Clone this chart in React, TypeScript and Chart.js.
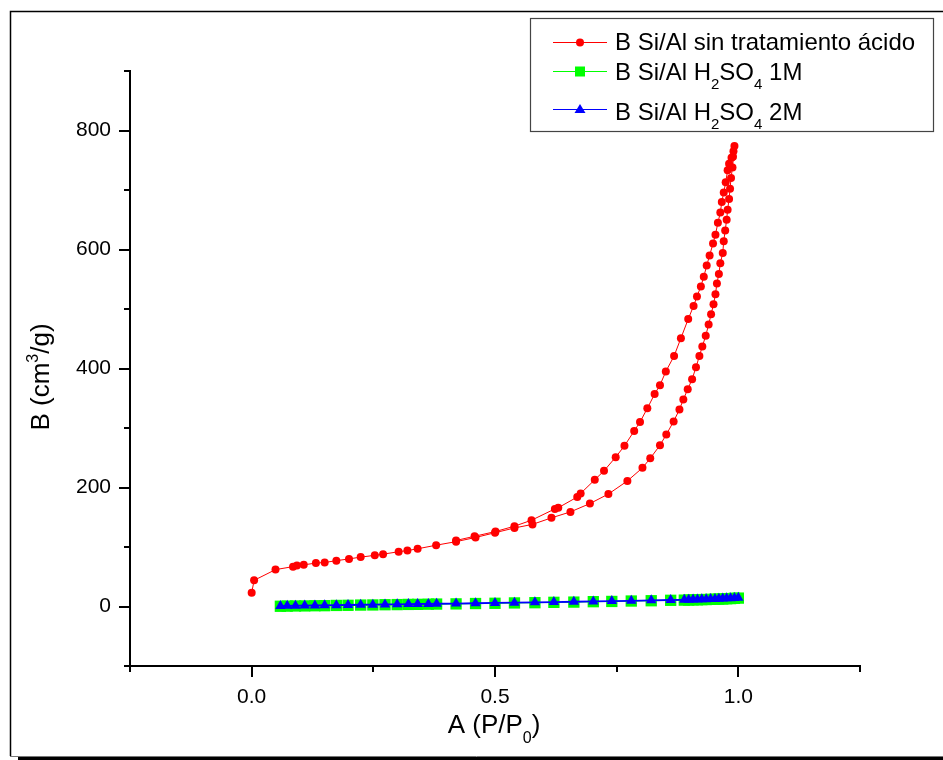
import React, { useEffect, useRef } from "react";
import { Chart, registerables } from "chart.js";

Chart.register(...registerables);

// ---------- data ----------
const redX = [
  0.0, 0.005, 0.049, 0.085, 0.093, 0.107, 0.132, 0.15, 0.174, 0.2, 0.224, 0.253, 0.27, 0.302, 0.32, 0.341,
  0.379, 0.42, 0.46, 0.5, 0.54, 0.577, 0.616, 0.655, 0.695, 0.733, 0.772, 0.803, 0.819, 0.839, 0.852, 0.867,
  0.879, 0.887, 0.896, 0.905, 0.913, 0.92, 0.926, 0.933, 0.939, 0.944, 0.949, 0.953, 0.956, 0.96, 0.963,
  0.968, 0.97, 0.973, 0.976, 0.978, 0.981, 0.983, 0.985, 0.988, 0.989, 0.992,
  0.99, 0.986, 0.981, 0.978, 0.974, 0.97, 0.966, 0.963, 0.958, 0.953, 0.948, 0.941, 0.935, 0.929, 0.923,
  0.915, 0.908, 0.897, 0.882, 0.868, 0.851, 0.839, 0.828, 0.813, 0.798, 0.786, 0.766, 0.748, 0.724, 0.705,
  0.676, 0.669, 0.63, 0.623, 0.575, 0.54, 0.501, 0.458, 0.42,
];
const redY = [
  23, 44, 62, 67, 69, 70, 73, 74, 77, 80, 83, 86, 88, 92, 94, 97,
  103, 109, 116, 124, 132, 138, 149, 159, 173, 189, 211, 233, 249, 271, 289, 311,
  331, 348, 365, 382, 402, 421, 437, 455, 474, 491, 508, 525, 543, 559, 577,
  594, 614, 632, 650, 667, 685, 702, 720, 738, 756, 774,
  765, 754, 744, 733, 713, 696, 680, 662, 645, 625, 610, 590, 573, 554, 538,
  521, 505, 483, 451, 421, 395, 372, 357, 333, 310, 295, 270, 251, 228, 213,
  190, 184, 166, 164, 145, 135, 126, 118, 111,
];

const greenX = [
  0.059, 0.073, 0.09, 0.109, 0.13, 0.15, 0.174, 0.198, 0.224, 0.249, 0.274, 0.299, 0.322, 0.341, 0.363, 0.38,
  0.42, 0.46, 0.5, 0.54, 0.582, 0.621, 0.662, 0.702, 0.74, 0.78, 0.821, 0.861, 0.889, 0.898, 0.907, 0.916,
  0.925, 0.934, 0.943, 0.952, 0.96, 0.968, 0.976, 0.984, 0.992, 1.0,
];
const greenY = [
  0.4, 0.6, 0.9, 1.0, 1.3, 1.4, 1.8, 2.0, 2.4, 2.6, 3.0, 3.2, 3.5, 3.6, 3.9, 4.1,
  4.4, 5.0, 5.4, 6.0, 6.4, 7.0, 7.4, 8.1, 8.5, 9.2, 9.7, 10.4, 10.7, 10.9, 11.2, 11.3,
  11.6, 11.7, 12.0, 12.2, 12.5, 12.7, 13.1, 13.3, 13.8, 14.1,
];

const blueX = [
  0.059, 0.073, 0.09, 0.109, 0.13, 0.15, 0.174, 0.198, 0.224, 0.249, 0.274, 0.299, 0.322, 0.341, 0.363, 0.38,
  0.42, 0.46, 0.5, 0.54, 0.582, 0.621, 0.662, 0.702, 0.74, 0.78, 0.821, 0.861, 0.889, 0.898, 0.907, 0.916,
  0.925, 0.934, 0.943, 0.952, 0.96, 0.968, 0.976, 0.984, 0.992, 1.0,
];
const blueY = [
  1.0, 1.1, 1.4, 1.6, 1.8, 2.0, 2.3, 2.5, 2.9, 3.1, 3.5, 3.7, 4.0, 4.2, 4.4, 4.6,
  5.0, 5.5, 6.0, 6.4, 7.0, 7.5, 8.0, 8.6, 9.1, 9.6, 10.3, 10.9, 11.2, 11.5, 11.7, 11.9,
  12.1, 12.3, 12.6, 12.8, 13.0, 13.3, 13.7, 13.9, 14.4, 14.8,
];

const xMajorTicks = [0, 0.5, 1.0];
const yMajorTicks = [0, 200, 400, 600, 800];

const seriesNames = ["B Si/Al sin tratamiento ácido", "B Si/Al H2SO4 1M", "B Si/Al H2SO4 2M"];

const FONT = "'Liberation Sans', Arial, sans-serif";

const toPoints = (xs: number[], ys: number[]) => xs.map((x, i) => ({ x, y: ys[i] }));

// draws text pieces: [text, kind] where kind: 'n' normal, 'sub', 'sup'
function drawRich(
  ctx: CanvasRenderingContext2D,
  parts: [string, string][],
  x: number,
  y: number,
  size: number,
  small: number,
  align: "left" | "center"
) {
  const fontN = `${size}px ${FONT}`;
  const fontS = `${small}px ${FONT}`;
  let total = 0;
  for (const [t, k] of parts) {
    ctx.font = k === "n" ? fontN : fontS;
    total += ctx.measureText(t).width;
  }
  let cx = align === "center" ? x - total / 2 : x;
  ctx.textAlign = "left";
  ctx.textBaseline = "alphabetic";
  for (const [t, k] of parts) {
    ctx.font = k === "n" ? fontN : fontS;
    let dy = 0;
    if (k === "sub") dy = size * 0.38;
    if (k === "sup") dy = -size * 0.42;
    ctx.fillText(t, cx, y + dy);
    cx += ctx.measureText(t).width;
  }
}

const decorPlugin = {
  id: "decor",
  beforeDraw(chart: any) {
    const ctx = chart.ctx as CanvasRenderingContext2D;
    ctx.save();
    ctx.fillStyle = "#fff";
    ctx.fillRect(0, 0, chart.width, chart.height);
    ctx.restore();
  },
  afterDraw(chart: any) {
    const ctx = chart.ctx as CanvasRenderingContext2D;
    const { left, bottom } = chart.chartArea;
    const xs = chart.scales.x;
    const ys = chart.scales.y;
    ctx.save();
    // tick marks
    ctx.strokeStyle = "#000";
    ctx.lineWidth = 2;
    for (const t of xs.ticks) {
      const px = Math.round(xs.getPixelForValue(t.value));
      const len = xMajorTicks.some((v) => Math.abs(v - t.value) < 1e-9) ? 11 : 6;
      ctx.beginPath();
      ctx.moveTo(px, bottom);
      ctx.lineTo(px, bottom + len);
      ctx.stroke();
    }
    for (const t of ys.ticks) {
      const py = Math.round(ys.getPixelForValue(t.value));
      const len = yMajorTicks.includes(t.value) ? 11 : 6;
      ctx.beginPath();
      ctx.moveTo(left, py);
      ctx.lineTo(left - len, py);
      ctx.stroke();
    }

    // axis titles
    ctx.fillStyle = "#000";
    drawRich(ctx, [["A (P/P", "n"], ["0", "sub"], [")", "n"]], 494, 733, 26, 16, "center");
    ctx.save();
    ctx.translate(49, 377);
    ctx.rotate(-Math.PI / 2);
    drawRich(ctx, [["B (cm", "n"], ["3", "sup"], ["/g)", "n"]], 0, 0, 26, 16, "center");
    ctx.restore();

    // legend
    ctx.strokeStyle = "#444";
    ctx.lineWidth = 1.2;
    ctx.strokeRect(530.5, 18.5, 403, 113);
    const rows = [
      { color: "#ff0000", y: 42, base: 50, shape: "circle" },
      { color: "#00ff00", y: 71, base: 80, shape: "square" },
      { color: "#0000ff", y: 109, base: 120, shape: "triangle" },
    ];
    rows.forEach((r, i) => {
      ctx.strokeStyle = r.color;
      ctx.lineWidth = 1;
      ctx.beginPath();
      ctx.moveTo(553, r.y + 0.5);
      ctx.lineTo(607, r.y + 0.5);
      ctx.stroke();
      ctx.fillStyle = r.color;
      ctx.beginPath();
      if (r.shape === "circle") {
        ctx.arc(580, r.y + 0.5, 4, 0, Math.PI * 2);
      } else if (r.shape === "square") {
        ctx.rect(575, r.y - 4.5, 10, 10);
      } else {
        ctx.moveTo(580, r.y - 5);
        ctx.lineTo(585.5, r.y + 4);
        ctx.lineTo(574.5, r.y + 4);
        ctx.closePath();
      }
      ctx.fill();
      ctx.fillStyle = "#000";
      if (i === 0) {
        drawRich(ctx, [[seriesNames[0], "n"]], 615, r.base, 24, 15, "left");
      } else {
        const m = i === 1 ? " 1M" : " 2M";
        drawRich(
          ctx,
          [["B Si/Al H", "n"], ["2", "sub"], ["SO", "n"], ["4", "sub"], [m, "n"]],
          615,
          r.base,
          24,
          15,
          "left"
        );
      }
    });

    // outer frame
    ctx.strokeStyle = "#000";
    ctx.lineWidth = 1.5;
    ctx.beginPath();
    ctx.moveTo(10.5, 756);
    ctx.lineTo(10.5, 11.5);
    ctx.lineTo(943, 11.5);
    ctx.stroke();
    ctx.strokeStyle = "#777";
    ctx.lineWidth = 1;
    ctx.beginPath();
    ctx.moveTo(10, 756.5);
    ctx.lineTo(943, 756.5);
    ctx.stroke();
    ctx.fillStyle = "#000";
    ctx.fillRect(18, 757, 925, 3);
    ctx.restore();
  },
};

export default function App() {
  const ref = useRef<HTMLCanvasElement | null>(null);
  useEffect(() => {
    if (!ref.current) return;
    const chart = new Chart(ref.current, {
      type: "scatter",
      data: {
        datasets: [
          {
            label: seriesNames[0],
            data: toPoints(redX, redY),
            showLine: true,
            borderColor: "#ff0000",
            backgroundColor: "#ff0000",
            borderWidth: 1,
            pointStyle: "circle",
            pointRadius: 4,
            pointBorderWidth: 0,
            order: 0,
          },
          {
            label: seriesNames[1],
            data: toPoints(greenX, greenY),
            showLine: true,
            borderColor: "#00ff00",
            backgroundColor: "#00ff00",
            borderWidth: 1,
            pointStyle: "rect",
            pointRadius: 8,
            pointBorderWidth: 0,
            order: 2,
          },
          {
            label: seriesNames[2],
            data: toPoints(blueX, blueY),
            showLine: true,
            borderColor: "#0000ff",
            backgroundColor: "#0000ff",
            borderWidth: 1.8,
            pointStyle: "triangle",
            pointRadius: 6,
            pointBorderWidth: 0,
            order: 1,
          },
        ],
      },
      options: {
        animation: false,
        responsive: false,
        maintainAspectRatio: false,
        layout: { padding: { left: 0, right: 83, top: 71, bottom: 0 } },
        plugins: { legend: { display: false }, tooltip: { enabled: false }, title: { display: false } },
        scales: {
          x: {
            type: "linear",
            min: -0.25,
            max: 1.25,
            afterFit: (s: any) => {
              s.height = 94;
            },
            ticks: {
              stepSize: 0.25,
              autoSkip: false,
              maxRotation: 0,
              padding: 8,
              color: "#000",
              font: { family: FONT, size: 21 },
              callback: (v: any) =>
                xMajorTicks.some((m) => Math.abs(m - Number(v)) < 1e-9) ? Number(v).toFixed(1) : "",
            },
            grid: { display: true, drawOnChartArea: false, drawTicks: true, tickLength: 11, tickColor: "rgba(0,0,0,0)" },
            border: { display: true, color: "#000", width: 2 },
            title: { display: false },
          },
          y: {
            type: "linear",
            min: -100,
            max: 900,
            afterFit: (s: any) => {
              s.width = 130;
            },
            ticks: {
              stepSize: 100,
              autoSkip: false,
              padding: 8,
              color: "#000",
              font: { family: FONT, size: 21 },
              callback: (v: any) => (yMajorTicks.includes(Number(v)) ? String(v) : ""),
            },
            grid: { display: true, drawOnChartArea: false, drawTicks: true, tickLength: 11, tickColor: "rgba(0,0,0,0)" },
            border: { display: true, color: "#000", width: 2 },
            title: { display: false },
          },
        },
      },
      plugins: [decorPlugin],
    });
    return () => chart.destroy();
  }, []);
  return (
    <div style={{ position: "absolute", left: 0, top: 0, width: 943, height: 760, background: "#fff" }}>
      <canvas ref={ref} width={943} height={760} style={{ display: "block", width: 943, height: 760 }} />
    </div>
  );
}
